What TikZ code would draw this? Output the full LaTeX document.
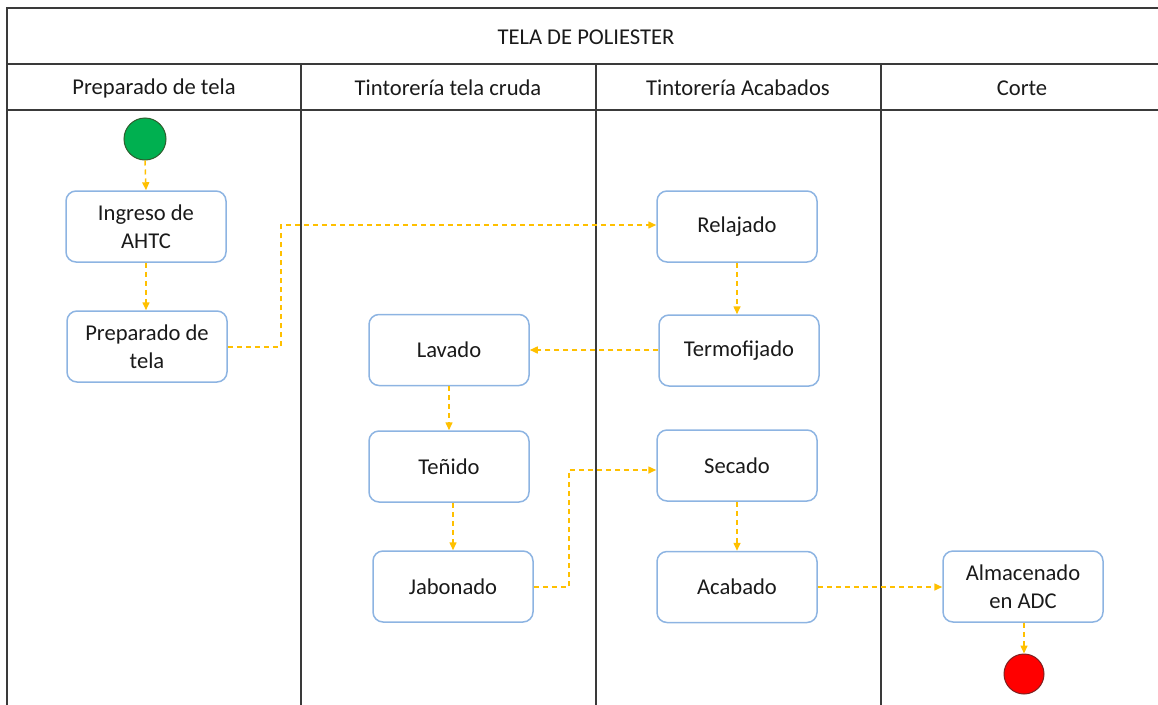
\documentclass[tikz,border=0pt]{standalone}
\usepackage{fontspec}
\setmainfont{Carlito}
\usetikzlibrary{arrows.meta}
\definecolor{frame}{HTML}{3A3A3A}
\definecolor{boxline}{HTML}{8DB4E2}
\definecolor{flow}{HTML}{FFC000}
\definecolor{startg}{HTML}{00B050}
\definecolor{startb}{HTML}{2E5E2E}
\definecolor{endr}{HTML}{FF0000}
\definecolor{endb}{HTML}{7F2020}
\definecolor{txt}{HTML}{1A1A1A}
\tikzset{
  lane/.style={draw=frame, line width=1.6pt},
  proc/.style={draw=boxline, line width=1.5pt, rounded corners=10pt, minimum width=160pt, minimum height=71pt, align=center, font=\fontsize{22.6}{28.5}\selectfont, text=txt, inner sep=0pt},
  hdr/.style={font=\fontsize{22.6}{27}\selectfont, text=txt},
  flw/.style={draw=flow, line width=1.5pt, dash pattern=on 5pt off 4pt, -{Triangle[length=8pt,width=7pt]}},
  startnode/.style={circle, draw=startb, fill=startg, line width=1pt, minimum size=42pt, inner sep=0pt},
  endnode/.style={circle, draw=endb, fill=endr, line width=1pt, minimum size=40pt, inner sep=0pt}
}
\begin{document}
\begin{tikzpicture}[x=1pt,y=-1pt]
\useasboundingbox (0,0) rectangle (1158,704);
% frame
\draw[lane] (1160,8) -- (7,8) -- (7,706);
\draw[lane] (7,64) -- (1160,64);
\draw[lane] (7,110) -- (1160,110);
\draw[lane] (301,64) -- (301,706);
\draw[lane] (596,64) -- (596,706);
\draw[lane] (881,64) -- (881,706);
% headers
\node[hdr] (title) at (586,37) {TELA DE POLIESTER};
\node[hdr] (h1) at (154,88) {Preparado de tela};
\node[hdr] (h2) at (448,88) {Tintorería tela cruda};
\node[hdr] (h3) at (738,88) {Tintorería Acabados};
\node[hdr] (h4) at (1022,88) {Corte};
% nodes
\node[startnode] (start) at (145,139) {};
\node[proc] (ing) at (146,226.5) {Ingreso de\\AHTC};
\node[proc] (prep) at (147,346.5) {Preparado de\\tela};
\node[proc] (lav) at (449,350) {Lavado};
\node[proc] (ten) at (449,466.5) {Teñido};
\node[proc] (jab) at (453,586.5) {Jabonado};
\node[proc] (rel) at (737,226.5) {Relajado};
\node[proc] (ter) at (739,350.5) {Termofijado};
\node[proc] (sec) at (737,465.5) {Secado};
\node[proc] (aca) at (737,587) {Acabado};
\node[proc] (alm) at (1023,586.5) {Almacenado\\en ADC};
\node[endnode] (stop) at (1024,674) {};
% flows
\coordinate (c1) at (281,347);
\coordinate (c2) at (281,225);
\coordinate (c3) at (569,587);
\coordinate (c4) at (569,470);
\draw[flw] (start.south) -- (ing.north);
\draw[flw] (ing.south) -- (prep.north -| ing.south);
\draw[flw] (prep.east |- c1) -- (c1) -- (c2) -- (rel.west |- c2);
\draw[flw] (rel.south) -- (ter.north -| rel.south);
\draw[flw] (ter.west |- lav.east) -- (lav.east);
\draw[flw] (lav.south) -- (ten.north);
\draw[flw] (ten.south -| jab.north) -- (jab.north);
\draw[flw] (jab.east |- c3) -- (c3) -- (c4) -- (sec.west |- c4);
\draw[flw] (sec.south) -- (aca.north);
\draw[flw] (aca.east) -- (alm.west |- aca.east);
\draw[flw] (alm.south -| stop.north) -- (stop.north);
\end{tikzpicture}
\end{document}
